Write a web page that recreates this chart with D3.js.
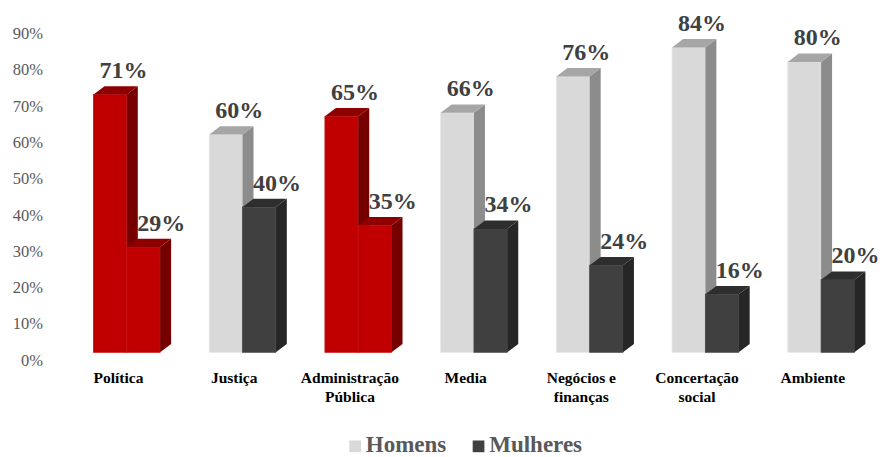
<!DOCTYPE html>
<html>
<head>
<meta charset="utf-8">
<script src="https://cdn.jsdelivr.net/npm/d3@7/dist/d3.min.js"></script>
<style>
  html, body { margin: 0; padding: 0; background: #fff; }
  svg { display: block; }
  svg text { font-family: "Liberation Serif", Tinos, "Times New Roman", Times, serif; }
</style>
</head>
<body>
<svg id="chart" width="880" height="457"></svg>
<script>
// Data
const categories = ["Política", "Justiça", "Administração\nPública", "Media", "Negócios e\nfinanças", "Concertação\nsocial", "Ambiente"];
const series = ["Homens", "Mulheres"];
const homens = [71, 60, 65, 66, 76, 84, 80];
const mulheres = [29, 40, 35, 34, 24, 16, 20];
const highlighted = ["Política", "Administração\nPública"];
const yTicks = [0, 10, 20, 30, 40, 50, 60, 70, 80, 90];

// Face colours for the 3D columns: front, side, top
const palette = {
  Homens:   { front: "#d9d9d9", side: "#8c8c8c", top: "#a6a6a6", edge: "#e6e6e6" },
  Mulheres: { front: "#404040", side: "#262626", top: "#2e2e2e", edge: "#4a4a4a" },
  red:      { front: "#c00000", side: "#760000", top: "#8e0000", edge: "#c81010" }
};
const legendColors = { Homens: "#d9d9d9", Mulheres: "#404040" };

const svg = d3.select("#chart");

const barW = 33.3, depthX = 11, depthY = 8.3;

const x = d3.scaleBand().domain(categories).range([74, 884]).padding(0);
const groupOffset = 19.5;
const xs = d3.scaleBand().domain(series).range([0, 2 * barW]);
const y = d3.scaleLinear().domain([0, 90]).range([352.3, 25.6]);

// Y axis labels (no line, no ticks)
const yAxis = d3.axisLeft(y).tickValues(yTicks).tickSize(0).tickPadding(3).tickFormat(d => d + "%");
const gy = svg.append("g").attr("transform", "translate(46,7.7)").call(yAxis);
gy.attr("font-family", null);
gy.select(".domain").remove();
gy.selectAll("text")
  .style("font-size", "16.5px")
  .attr("fill", "#595959");

// Build rows
const rows = [];
categories.forEach((c, i) => {
  rows.push({ cat: c, s: "Homens", v: homens[i] });
  rows.push({ cat: c, s: "Mulheres", v: mulheres[i] });
});

function colorsFor(d) {
  return highlighted.includes(d.cat) ? palette.red : palette[d.s];
}

const bars = svg.append("g").selectAll("g.bar").data(rows).join("g").attr("class", "bar");

bars.each(function (d) {
  const g = d3.select(this);
  const x0 = x(d.cat) + groupOffset + xs(d.s);
  const yT = y(d.v), yB = y(0);
  const c = colorsFor(d);
  // front face
  g.append("rect")
    .attr("x", x0).attr("y", yT).attr("width", barW).attr("height", yB - yT)
    .attr("fill", c.front).attr("stroke", c.edge).attr("stroke-width", 0.8);
  // side face
  g.append("polygon")
    .attr("points", [[x0 + barW, yT], [x0 + barW + depthX, yT - depthY], [x0 + barW + depthX, yB - depthY], [x0 + barW, yB]].join(" "))
    .attr("fill", c.side);
  // top face
  g.append("polygon")
    .attr("points", [[x0, yT], [x0 + depthX, yT - depthY], [x0 + barW + depthX, yT - depthY], [x0 + barW, yT]].join(" "))
    .attr("fill", c.top);
});

// Value labels
svg.append("g").selectAll("text").data(rows).join("text")
  .attr("x", d => x(d.cat) + groupOffset + xs(d.s) + (d.s === "Homens" ? 30 : 34.5))
  .attr("y", d => y(d.v) - 16.5)
  .attr("text-anchor", "middle")
  .style("font-weight", "bold")
  .style("font-size", "24px")
  .attr("fill", "#404040")
  .text(d => d.v + "%");

// Category labels
const catLabels = svg.append("g").selectAll("text").data(categories).join("text")
  .attr("x", d => x(d) + groupOffset + 25)
  .attr("y", 382.7)
  .attr("text-anchor", "middle")
  .style("font-weight", "bold")
  .style("font-size", "15.5px")
  .attr("fill", "#000");
catLabels.each(function (d) {
  const t = d3.select(this);
  d.split("\n").forEach((line, k) => {
    t.append("tspan").attr("x", x(d) + groupOffset + 25).attr("dy", k === 0 ? 0 : 19).text(line);
  });
});

// Legend
const legendX = [349.3, 472.7];
const lg = svg.append("g").selectAll("g").data(series).join("g")
  .attr("transform", (d, i) => `translate(${legendX[i]},440.5)`);
lg.append("rect").attr("width", 11.7).attr("height", 11.7).attr("fill", d => legendColors[d]);
lg.append("text")
  .attr("x", 16.5).attr("y", 11.7)
  .style("font-weight", "bold")
  .style("font-size", "23px")
  .attr("fill", "#595959")
  .text(d => d);
</script>
</body>
</html>
